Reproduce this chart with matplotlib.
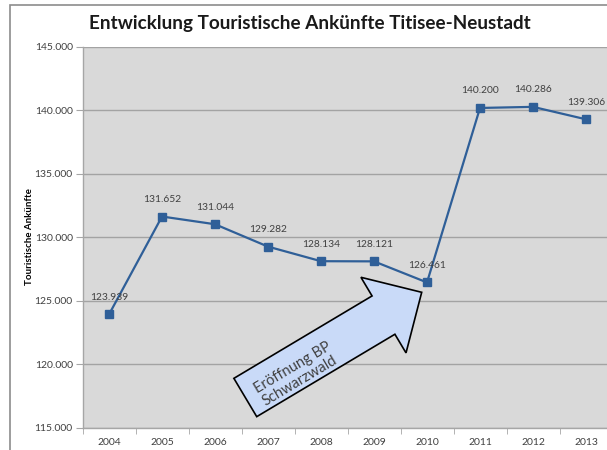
import matplotlib
matplotlib.use("Agg")
import matplotlib.pyplot as plt
from matplotlib.patches import FancyArrow, Rectangle
from matplotlib.ticker import FuncFormatter, FixedLocator

years = ["2004", "2005", "2006", "2007", "2008", "2009", "2010", "2011", "2012", "2013"]
arrivals = [123939, 131652, 131044, 129282, 128134, 128121, 126461, 140200, 140286, 139306]
y_ticks = [115000, 120000, 125000, 130000, 135000, 140000, 145000]
title = "Entwicklung Touristische Ankünfte Titisee-Neustadt"
ylabel = "Touristische Ankünfte"
note = "Eröffnung BP\nSchwarzwald"

W, H = 607, 450
fig = plt.figure(figsize=(W / 100, H / 100), dpi=100)
fig.patch.set_facecolor("white")

# outer frame (cropped chart border)
fig.patches.append(Rectangle((10 / W, -0.1), 1.2, (H - 5) / H + 0.1, transform=fig.transFigure,
                             fill=False, edgecolor="#8c8c8c", linewidth=1.2, zorder=0))

left, right, top, bottom = 82.5, 612.5, 47, 428
ax = fig.add_axes([left / W, (H - bottom) / H, (right - left) / W, (bottom - top) / H])
ax.set_facecolor("#d9d9d9")

x = list(range(len(years)))
ax.plot(x, arrivals, color="#2f5f98", linewidth=1.6, marker="s", markersize=6,
        markerfacecolor="#2f5f98", markeredgecolor="#2f5f98", zorder=3)

fmt = lambda v: f"{v:,.0f}".replace(",", ".")
for xi, v in zip(x, arrivals):
    ax.annotate(fmt(v), (xi, v), xytext=(0, 9), textcoords="offset points", ha="center",
                va="bottom", fontsize=7.4, color="#404040", family="Lato", zorder=4)

ax.set_xlim(-0.5, len(years) - 0.5)
ax.set_ylim(y_ticks[0], y_ticks[-1])
ax.set_yticks(y_ticks)
ax.yaxis.set_major_formatter(FuncFormatter(lambda v, p: fmt(v)))
ax.set_xticks(x)
ax.set_xticklabels(years)
ax.xaxis.set_minor_locator(FixedLocator([i - 0.5 for i in range(len(years) + 1)]))
ax.tick_params(axis="x", which="major", length=0, pad=7, labelsize=7.5, labelcolor="#404040")
ax.tick_params(axis="x", which="minor", length=4, color="#a6a6a6")
ax.tick_params(axis="y", length=5, color="#a6a6a6", pad=2, labelsize=7.5, labelcolor="#404040")
for lab in ax.get_xticklabels() + ax.get_yticklabels():
    lab.set_family("Lato")

ax.grid(axis="y", color="#a3a3a3", linewidth=1.0)
ax.set_axisbelow(True)
for s in ["top", "right"]:
    ax.spines[s].set_visible(False)
for s in ["left", "bottom"]:
    ax.spines[s].set_color("#a6a6a6")
    ax.spines[s].set_linewidth(1.0)

fig.text(30 / W, (H - 237) / H, ylabel, rotation=90, ha="center", va="center",
         fontsize=7, fontweight="bold", family="Lato", color="black")
fig.text(310 / W, (H - 23) / H, title, ha="center", va="center", fontsize=13.6,
         fontweight="bold", family="Lato", color="#1a1a1a")

# annotation block arrow (in pixel/inch space)
tail_x, tail_y = 245.3, 397.5
tip_x, tip_y = 421.7, 292.3
arrow = FancyArrow(tail_x / 100, (H - tail_y) / 100, (tip_x - tail_x) / 100, -(tip_y - tail_y) / 100,
                   width=0.446, head_width=0.88, head_length=0.445, length_includes_head=True,
                   transform=fig.dpi_scale_trans, facecolor="#c9daf8", edgecolor="black",
                   linewidth=1.2, zorder=5)
fig.patches.append(arrow)
fig.text(297 / W, (H - 374) / H, note, rotation=30.8, rotation_mode="anchor", ha="center",
         va="center", multialignment="left", fontsize=10.5, family="Lato", color="#404040",
         linespacing=1.15, zorder=6)

fig.savefig("out.png", dpi=100)
